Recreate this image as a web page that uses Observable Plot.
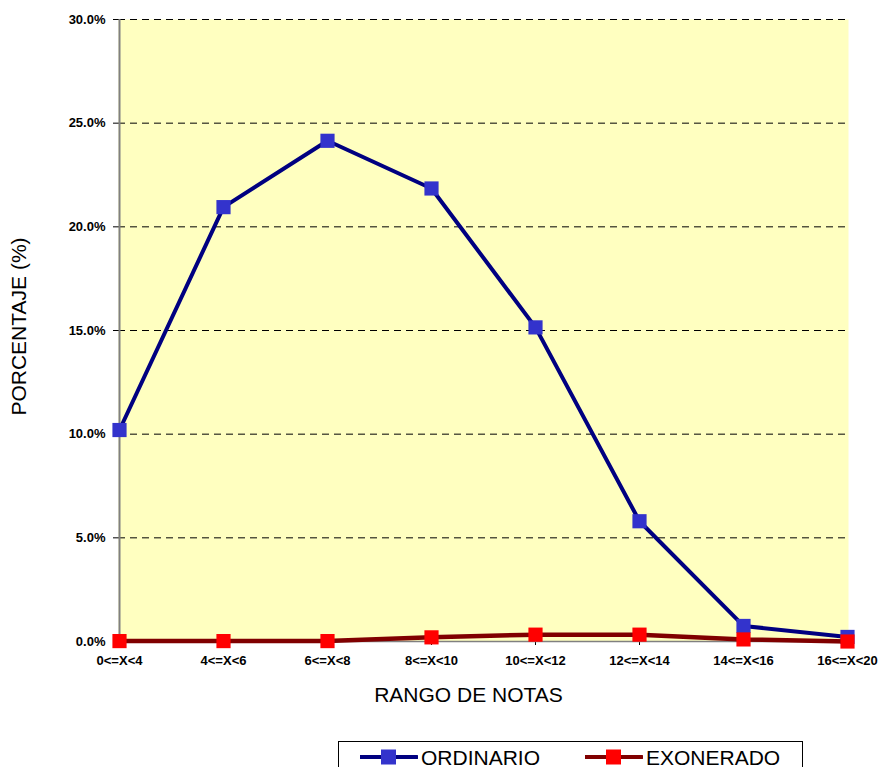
<!DOCTYPE html>
<html>
<head>
<meta charset="utf-8">
<script src="https://cdn.jsdelivr.net/npm/d3@7"></script>
<script src="https://cdn.jsdelivr.net/npm/@observablehq/plot@0.6"></script>
<style>
  html, body { margin: 0; padding: 0; background: #fff; }
  #chart svg { display: block; }
  #chart g[aria-label$="tick label"], #chart g[aria-label$="tick label"] text {
    font-size: 13px !important; font-weight: bold !important;
  }
  #legend {
    position: absolute; left: 338px; top: 741px; width: 463px; height: 40px;
    border: 1px solid #000; box-sizing: content-box;
    font-family: "Liberation Sans", Arial, sans-serif; font-size: 21px; color: #000;
  }
  .item { position: absolute; top: 0; height: 30px; display: flex; align-items: center; }
  .item svg { display: block; }
  .item span { margin-left: 3px; line-height: 1; }
</style>
</head>
<body>
<div id="chart" style="position:relative;"></div>
<div id="legend"></div>
<script>
const categories = ["0<=X<4", "4<=X<6", "6<=X<8", "8<=X<10", "10<=X<12", "12<=X<14", "14<=X<16", "16<=X<20"];
const ordinario = [10.2, 20.95, 24.15, 21.85, 15.15, 5.8, 0.75, 0.22];
const exonerado = [0.02, 0.02, 0.02, 0.2, 0.33, 0.33, 0.1, 0.0];
const yTicks = [0, 5, 10, 15, 20, 25, 30];
const seriesNames = ["ORDINARIO", "EXONERADO"];
const lineColors = ["#000080", "#800000"];
const markerColors = ["#3333CC", "#FF0000"];

const ord = categories.map((c, i) => ({cat: c, v: ordinario[i]}));
const exo = categories.map((c, i) => ({cat: c, v: exonerado[i]}));

const chart = Plot.plot({
  width: 880,
  height: 730,
  marginTop: 19,
  marginLeft: 118,
  marginRight: 32,
  marginBottom: 89,
  style: {fontFamily: "'Liberation Sans', Arial, sans-serif", fontSize: "13px", fontWeight: "bold", color: "#000", background: "#fff"},
  x: {type: "point", domain: categories, padding: 0},
  y: {domain: [0, 30]},
  marks: [
    Plot.frame({fill: "#FFFFC0", stroke: null}),
    Plot.ruleY(yTicks.filter(d => d > 0), {stroke: "#000", strokeWidth: 1, strokeDasharray: "7,5"}),
    Plot.axisY({ticks: yTicks, tickSize: 5, tickPadding: 8, tickFormat: d => d.toFixed(1) + "%", label: null, fontSize: 13, fontWeight: "bold"}),
    Plot.axisX({tickSize: 4, tickPadding: 10, label: null, fontSize: 13, fontWeight: "bold"}),
    Plot.ruleY([0], {stroke: "#808080", strokeWidth: 1.5}),
    Plot.ruleX([categories[0]], {stroke: "#808080", strokeWidth: 2}),
    Plot.line(ord, {x: "cat", y: "v", stroke: lineColors[0], strokeWidth: 4}),
    Plot.dot(ord, {x: "cat", y: "v", symbol: "square", r: 8, fill: markerColors[0], stroke: null}),
    Plot.line(exo, {x: "cat", y: "v", stroke: lineColors[1], strokeWidth: 4.5}),
    Plot.dot(exo, {x: "cat", y: "v", symbol: "square", r: 8, fill: markerColors[1], stroke: null}),
    Plot.text(["RANGO DE NOTAS"], {frameAnchor: "bottom", dx: -15, dy: 54, lineAnchor: "middle", fontSize: 21, fontWeight: "normal"}),
    Plot.text(["PORCENTAJE (%)"], {frameAnchor: "left", dx: -99, dy: -4, rotate: -90, lineAnchor: "middle", textAnchor: "middle", fontSize: 21, fontWeight: "normal"})
  ]
});
document.getElementById("chart").appendChild(chart);

const legend = document.getElementById("legend");
const offsets = [21, 246];
seriesNames.forEach((name, i) => {
  const item = document.createElement("div");
  item.className = "item";
  item.style.left = offsets[i] + "px";
  item.style.top = "0px";
  item.innerHTML = `<svg width="58" height="26"><line x1="0" y1="13" x2="57" y2="13" stroke="${lineColors[i]}" stroke-width="4" stroke-linecap="round"/><rect x="21" y="5.5" width="15" height="15" fill="${markerColors[i]}"/></svg><span>${name}</span>`;
  legend.appendChild(item);
});
</script>
</body>
</html>
